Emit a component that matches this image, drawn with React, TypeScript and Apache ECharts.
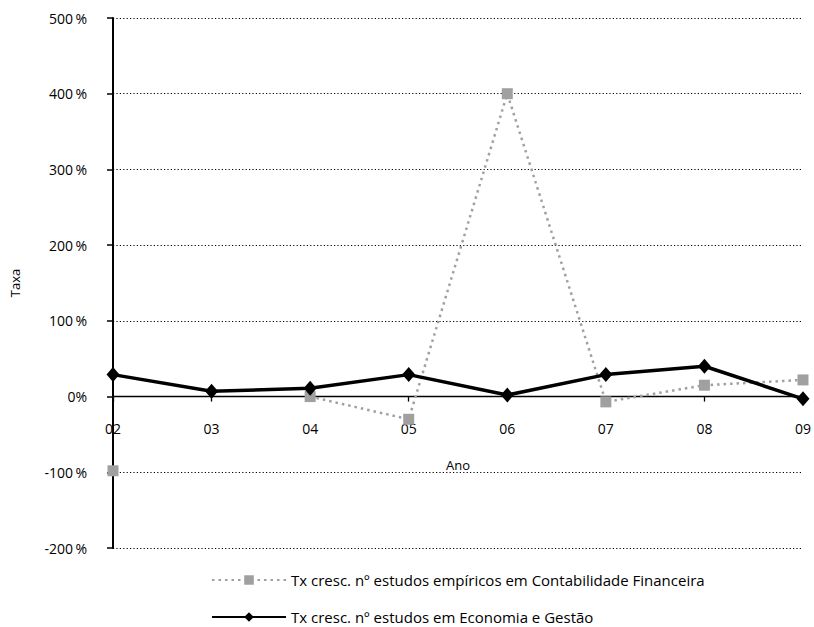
import React, { useEffect, useRef } from "react";
import * as echarts from "echarts";

// Anos (categorias do eixo horizontal)
const anos = ["02", "03", "04", "05", "06", "07", "08", "09"];

// Taxa de crescimento (%) — estudos empíricos em Contabilidade Financeira
const taxaContabilidade: (number | null)[] = [-98, null, 0, -30, 400, -7, 15, 22];

// Taxa de crescimento (%) — estudos em Economia e Gestão
const taxaEconomia: number[] = [29, 7, 11, 29, 2, 29, 40, -3];

// Escala do eixo vertical (%)
const yMin = -200;
const yMax = 500;
const yStep = 100;

const nomeContabilidade = "Tx cresc. nº estudos empíricos em Contabilidade Financeira";
const nomeEconomia = "Tx cresc. nº estudos em Economia e Gestão";

const FONT = "'Open Sans', 'Liberation Sans', sans-serif";

const WIDTH = 814;
const HEIGHT = 627;
const GRID_TOP = 18;
const GRID_BOTTOM = 79;

const legendBase = {
  orient: "horizontal",
  left: 211,
  padding: 0,
  itemWidth: 74,
  itemHeight: 12,
  itemGap: 8,
  textStyle: { fontSize: 15, lineHeight: 16, color: "#000", fontFamily: FONT },
};

export default function App() {
  const ref = useRef<HTMLDivElement>(null);

  useEffect(() => {
    if (!ref.current) return;
    const chart = echarts.init(ref.current, undefined, { renderer: "svg" });

    // the category axis sits on the 0 % line, with its labels just beneath it
    const plotH = HEIGHT - GRID_TOP - GRID_BOTTOM;
    const zeroFromBottom = (plotH * (0 - yMin)) / (yMax - yMin);

    chart.setOption({
      animation: false,
      backgroundColor: "#ffffff",
      textStyle: { fontFamily: FONT, color: "#000" },
      grid: { left: 113, right: 6, top: GRID_TOP, bottom: GRID_BOTTOM },
      xAxis: {
        type: "category",
        data: anos,
        boundaryGap: false,
        offset: -zeroFromBottom,
        name: "Ano",
        nameLocation: "middle",
        nameGap: 62,
        nameTextStyle: { fontSize: 13, color: "#000", fontFamily: FONT },
        axisLine: { onZero: false, lineStyle: { color: "#000", width: 1.3 } },
        axisTick: { show: true, alignWithLabel: true, length: 5, lineStyle: { color: "#000", width: 1.3 } },
        axisLabel: { fontSize: 14, color: "#000", margin: 25, fontFamily: FONT },
        splitLine: { show: false },
      },
      yAxis: {
        type: "value",
        min: yMin,
        max: yMax,
        interval: yStep,
        name: "Taxa",
        nameLocation: "middle",
        nameGap: 92,
        nameTextStyle: { fontSize: 13, color: "#000", fontFamily: FONT },
        axisLine: { show: true, onZero: false, lineStyle: { color: "#000", width: 2 } },
        axisTick: { show: true, length: 6, lineStyle: { color: "#000", width: 1.5 } },
        axisLabel: {
          fontSize: 14,
          color: "#000",
          margin: 26,
          fontFamily: FONT,
          formatter: (v: number) => (v === 0 ? "0%" : v + "\u2009%"),
        },
        splitLine: { show: true, lineStyle: { color: "#000", type: [1.2, 2.2], width: 1.2 } },
      },
      legend: [
        { ...legendBase, top: 572, data: [nomeContabilidade] },
        { ...legendBase, top: 609, data: [nomeEconomia] },
      ],
      series: [
        {
          name: nomeContabilidade,
          type: "line",
          data: taxaContabilidade,
          connectNulls: false,
          symbol: "rect",
          symbolSize: 11,
          itemStyle: { color: "#a0a0a0" },
          lineStyle: { color: "#a0a0a0", width: 2.5, type: [2.5, 4] },
          z: 2,
        },
        {
          name: nomeEconomia,
          type: "line",
          data: taxaEconomia,
          symbol: "diamond",
          symbolSize: [13, 15],
          itemStyle: { color: "#000" },
          lineStyle: { color: "#000", width: 3.5 },
          z: 3,
        },
      ],
    });
    return () => chart.dispose();
  }, []);

  return (
    <div
      ref={ref}
      style={{ position: "fixed", left: 0, top: 0, width: WIDTH, height: HEIGHT }}
    />
  );
}
